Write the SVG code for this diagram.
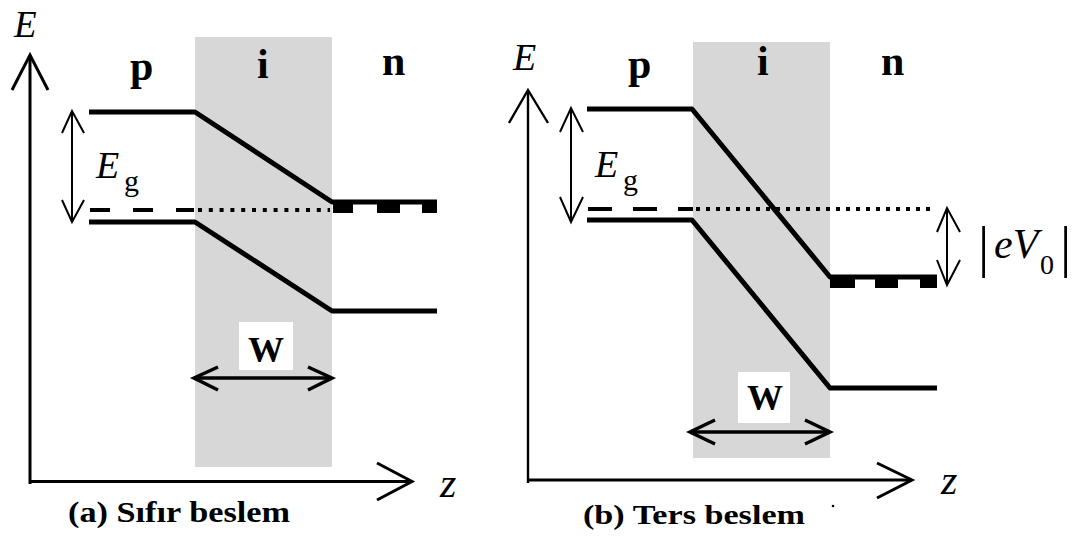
<svg xmlns="http://www.w3.org/2000/svg" width="1078" height="541" viewBox="0 0 1078 541">
<style>
.bg{fill:#ffffff}
.shade{fill:#d7d7d7}
.band{fill:none;stroke:#000;stroke-width:5;stroke-linejoin:round}
.ax{fill:none;stroke:#000;stroke-width:3}
.axb{fill:none;stroke:#000;stroke-width:2.4}
.arr{fill:none;stroke:#000;stroke-width:2}
.warr{fill:none;stroke:#000;stroke-width:3.5}
.fermi{fill:none;stroke:#000;stroke-width:4}
.dot{fill:none;stroke:#000;stroke-width:4}
.blk{fill:#000}
.box{fill:#fff}
text{font-family:'Liberation Serif',Tinos,'Times New Roman',Times,serif;fill:#000}
.it{font-style:italic}
.bd{font-weight:bold}
</style>
<rect class="bg" x="0" y="0" width="1078" height="541"/>

<g id="panel-a">
  <g id="a-intrinsic"><rect class="shade" x="195" y="37" width="137" height="430"/></g>
  <g id="a-bands">
    <polyline class="band" points="89,112 195,112 332,202 437,202"/>
    <rect class="blk" x="333" y="203" width="20" height="10"/>
    <rect class="blk" x="377" y="203" width="23" height="10"/>
    <rect class="blk" x="422" y="203" width="15" height="10"/>
    <line class="fermi" x1="90" y1="210" x2="194" y2="210" stroke-dasharray="20 23"/>
    <line class="dot" x1="198" y1="210" x2="330" y2="210" stroke-dasharray="4 6.8"/>
    <polyline class="band" points="89,222 195,222 332,311 437,311"/>
  </g>
  <g id="a-wbox"><rect class="box" x="239" y="322" width="54" height="48"/></g>
  <g id="a-labels">
    <text class="it" x="14" y="37" font-size="37" font-family="Liberation Serif">E</text>
    <text class="bd" x="130" y="80" font-size="42" font-family="Liberation Serif">p</text>
    <text class="bd" x="257" y="78" font-size="42" font-family="Liberation Serif">i</text>
    <text class="bd" x="382" y="75" font-size="42" font-family="Liberation Serif">n</text>
    <text class="it" x="96" y="178" font-size="38" font-family="Liberation Serif">E</text>
    <text x="124" y="191" font-size="30" font-family="Liberation Serif">g</text>
    <text class="bd" x="266" y="362" font-size="36" text-anchor="middle" font-family="Liberation Serif">W</text>
    <text class="it" x="440" y="497" font-size="42" font-family="Liberation Serif">z</text>
    <text class="bd" x="68" y="522" font-size="29" textLength="222" lengthAdjust="spacingAndGlyphs" font-family="Liberation Serif">(a) Sıfır beslem</text>
  </g>
</g>

<g id="panel-b">
  <g id="b-intrinsic"><rect class="shade" x="693" y="42" width="137" height="416"/></g>
  <g id="b-bands">
    <polyline class="band" points="587,109 692,109 830,277 937,277"/>
    <rect class="blk" x="830" y="278" width="25" height="10"/>
    <rect class="blk" x="875" y="278" width="23" height="10"/>
    <rect class="blk" x="920" y="278" width="17" height="10"/>
    <line class="fermi" x1="588" y1="209" x2="693" y2="209" stroke-dasharray="24 21"/>
    <line class="dot" x1="696" y1="209" x2="936" y2="209" stroke-dasharray="4 6"/>
    <polyline class="band" points="587,220 692,220 830,388 937,388"/>
  </g>
  <g id="b-wbox"><rect class="box" x="738" y="372" width="52" height="51"/></g>
  <g id="b-labels">
    <text class="it" x="513" y="70" font-size="38" font-family="Liberation Serif">E</text>
    <text class="bd" x="628" y="78" font-size="42" font-family="Liberation Serif">p</text>
    <text class="bd" x="757" y="75" font-size="42" font-family="Liberation Serif">i</text>
    <text class="bd" x="881" y="75" font-size="42" font-family="Liberation Serif">n</text>
    <text class="it" x="595" y="177" font-size="38" font-family="Liberation Serif">E</text>
    <text x="623" y="190" font-size="30" font-family="Liberation Serif">g</text>
    <text class="bd" x="765" y="410" font-size="36" text-anchor="middle" font-family="Liberation Serif">W</text>
    <text class="it" x="941" y="494" font-size="42" font-family="Liberation Serif">z</text>
    <text class="bd" x="583" y="524" font-size="28" textLength="222" lengthAdjust="spacingAndGlyphs" font-family="Liberation Serif">(b) Ters beslem</text>
    <text class="it" font-size="42" font-family="Liberation Serif"><tspan x="978" y="266" font-style="normal" font-size="56">|</tspan><tspan x="994" y="258">eV</tspan><tspan x="1040" y="274" font-style="normal" font-size="28">0</tspan><tspan x="1060" y="266" font-style="normal" font-size="56">|</tspan></text>
    <circle class="blk" cx="833" cy="506" r="1.3"/>
  </g>
</g>

<g id="connectors">
  <line class="ax" x1="30" y1="484" x2="30" y2="57"/>
  <polyline class="ax" points="12,90 30,55 48,90"/>
  <line class="ax" x1="29" y1="481.5" x2="410" y2="481.5"/>
  <polyline class="ax" points="377,463 412,481.5 377,500"/>
  <line class="arr" x1="72" y1="112" x2="72" y2="220"/>
  <polyline class="arr" points="62,133 72,111 84,133"/>
  <polyline class="arr" points="62,200 72,222 84,200"/>
  <line class="warr" x1="196" y1="378" x2="330" y2="378"/>
  <polyline class="warr" points="218,367 194,378 218,390"/>
  <polyline class="warr" points="308,367 332,378 308,390"/>

  <line class="axb" x1="528" y1="483" x2="528" y2="92"/>
  <polyline class="axb" points="509,123 528,90 548,123"/>
  <line class="ax" x1="527" y1="480" x2="910" y2="480"/>
  <polyline class="ax" points="877,463 912,480 877,498"/>
  <line class="arr" x1="571" y1="109" x2="571" y2="221"/>
  <polyline class="arr" points="560,132 571,108 583,132"/>
  <polyline class="arr" points="560,197 571,222 583,197"/>
  <line class="arr" x1="947" y1="209" x2="947" y2="284"/>
  <polyline class="arr" points="937,232 947,208 960,232"/>
  <polyline class="arr" points="937,260 947,285 960,260"/>
  <line class="warr" x1="692" y1="432" x2="828" y2="432"/>
  <polyline class="warr" points="715,420 690,432 715,444"/>
  <polyline class="warr" points="805,420 830,432 805,444"/>
</g>
</svg>
